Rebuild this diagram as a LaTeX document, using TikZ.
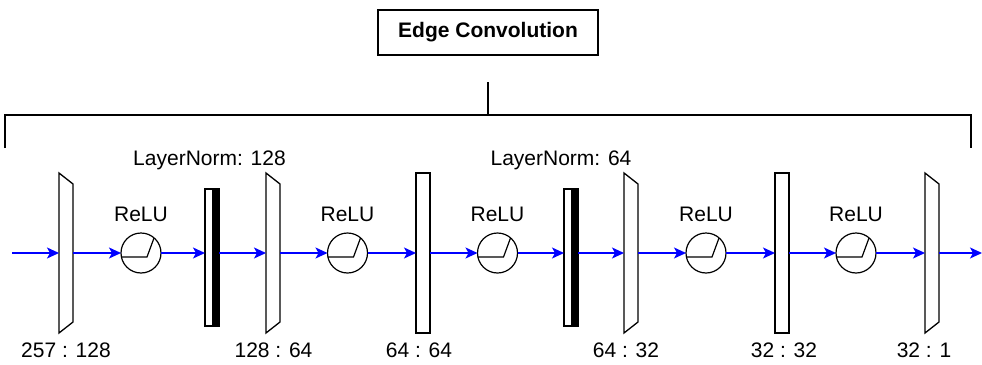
\documentclass[tikz,border=0pt]{standalone}
\usepackage{fontspec}
\setmainfont{Liberation Sans}
\usetikzlibrary{arrows.meta}
\begin{document}
\begin{tikzpicture}[x=1pt,y=-1pt,
  every node/.style={font=\fontsize{21}{25}\selectfont, inner sep=0pt, outer sep=0pt},
  layer/.style={minimum width=14pt, minimum height=160pt},
  normbox/.style={minimum width=14pt, minimum height=137pt},
  relu/.style={circle, draw, line width=1.2pt, minimum size=40pt},
  flow/.style={draw={rgb,255:red,0;green,0;blue,255}, line width=1.4pt,
    -{Stealth[length=12pt, width=11pt, inset=3pt]}},
  frame/.style={line width=1.3pt, line join=miter},
  bracket/.style={line width=2pt}
]
\useasboundingbox (0,0) rectangle (982,364);

% title and bracket
\node[draw, line width=1.8pt, minimum width=220pt, minimum height=45pt, font=\fontsize{21}{25}\selectfont\bfseries]
  (title) at (488,32.5) {Edge Convolution};
\coordinate (brtop) at (488,82);
\coordinate (brmid) at (488,115);
\coordinate (brl) at (5,115);
\coordinate (brr) at (971,115);
\coordinate (brlend) at (5,148);
\coordinate (brrend) at (971,148);
\draw[bracket] (brtop) -- (brmid);
\draw[bracket, line cap=butt] (brlend) -- (brl) -- (brr) -- (brrend);

% layers
\node[layer] (t1) at (66,253) {};
\node[relu] (c1) at (141,253) {};
\node[normbox] (n1) at (212,257.5) {};
\node[layer] (t2) at (273,253) {};
\node[relu] (c2) at (347.5,253) {};
\node[layer] (r1) at (423,253) {};
\node[relu] (c3) at (497.5,253) {};
\node[normbox] (n2) at (571,257.5) {};
\node[layer] (t3) at (631,253) {};
\node[relu] (c4) at (706,253) {};
\node[layer] (r2) at (782,253) {};
\node[relu] (c5) at (856,253) {};
\node[layer] (t4) at (932,253) {};

% linear layers drawn as trapezoids narrowing to the right
\foreach \t in {t1,t2,t3,t4}{
  \draw[frame] (\t.north west) -- ([yshift=-11pt]\t.north east) -- ([yshift=11pt]\t.south east)
    -- (\t.south west) -- cycle;
}
% square layers
\foreach \r in {r1,r2}{
  \draw[frame] (\r.north west) rectangle (\r.south east);
}
% layer norms: half white, half black
\foreach \n in {n1,n2}{
  \fill (\n.north) rectangle (\n.south east);
  \draw[frame] (\n.north west) rectangle (\n.south east);
}
% ReLU glyph
\foreach \c in {c1,c2,c3,c4,c5}{
  \draw[line width=1.2pt] ([shift={(-20,4)}]\c.center) -- ([shift={(6,4)}]\c.center)
    -- ([shift={(13,-15)}]\c.center);
  \node at ([yshift=39pt]\c.center) {ReLU};
}

% data flow
\coordinate (in) at (12,253);
\coordinate (out) at (982,253);
\draw[flow] (in) -- (t1.west);
\draw[flow] (t1.east) -- (c1.west);
\draw[flow] (c1.east) -- (c1.east -| n1.west);
\draw[flow] (c1.east -| n1.east) -- (t2.west);
\draw[flow] (t2.east) -- (c2.west);
\draw[flow] (c2.east) -- (r1.west);
\draw[flow] (r1.east) -- (c3.west);
\draw[flow] (c3.east) -- (c3.east -| n2.west);
\draw[flow] (c3.east -| n2.east) -- (t3.west);
\draw[flow] (t3.east) -- (c4.west);
\draw[flow] (c4.east) -- (r2.west);
\draw[flow] (r2.east) -- (c5.west);
\draw[flow] (c5.east) -- (t4.west);
\draw[flow] (t4.east) -- (out);

% labels
\node (ln1lab) at (209.5,160) {LayerNorm: 128};
\node (ln2lab) at (561,160) {LayerNorm: 64};
\node (d1) at (66,350) {257 : 128};
\node (d2) at (273.5,350) {128 : 64};
\node (d3) at (419,350) {64 : 64};
\node (d4) at (626,350) {64 : 32};
\node (d5) at (784,350) {32 : 32};
\node (d6) at (924,350) {32 : 1};
\end{tikzpicture}
\end{document}
